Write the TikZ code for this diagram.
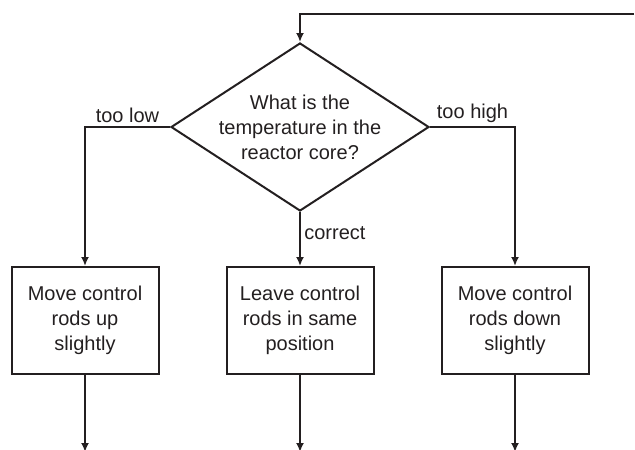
\documentclass[tikz,border=0pt]{standalone}
\usepackage{fontspec}
\setmainfont{Liberation Sans}
\usetikzlibrary{arrows.meta,positioning,shapes.geometric}
\definecolor{ink}{HTML}{231F20}

\begin{document}
\begin{tikzpicture}[
    x=1pt,y=1pt,
    node distance=54pt and 66pt,
    every node/.style={font=\fontsize{20}{25}\selectfont,text=ink},
    box/.style={draw=ink,line width=2pt,align=center,minimum width=147pt,minimum height=107pt,inner sep=0pt},
    choice/.style={draw=ink,diamond,line width=2pt,align=center,shape aspect=1.54,inner xsep=-25pt,inner ysep=-4pt,minimum width=258pt,minimum height=168pt},
    arr/.style={-{Latex[length=9pt,width=8pt]},line width=2pt,draw=ink}
]
\useasboundingbox (0,0) rectangle (635,-450);
\node[choice] (temp) at (300,-127) {What is the\\temperature in the\\reactor core?};
\node[box,below=of temp] (same) {Leave control\\rods in same\\position};
\node[box,left=of same] (up) {Move control\\rods up\\slightly};
\node[box,right=of same] (down) {Move control\\rods down\\slightly};
\coordinate (loop) at (634,-14);
\coordinate[below=77pt of up.south] (upend);
\coordinate[below=77pt of same.south] (sameend);
\coordinate[below=77pt of down.south] (downend);
\draw[arr] (loop) -| (temp.north);
\draw[arr] (temp.west) -| node[pos=0.25,above] {too low} (up.north);
\draw[arr] (temp.east) -| node[pos=0.25,above] {too high} (down.north);
\draw[arr] (temp.south) -- node[pos=0.4,right] {correct} (same.north);
\draw[arr] (up.south) -- (upend);
\draw[arr] (same.south) -- (sameend);
\draw[arr] (down.south) -- (downend);
\end{tikzpicture}
\end{document}
